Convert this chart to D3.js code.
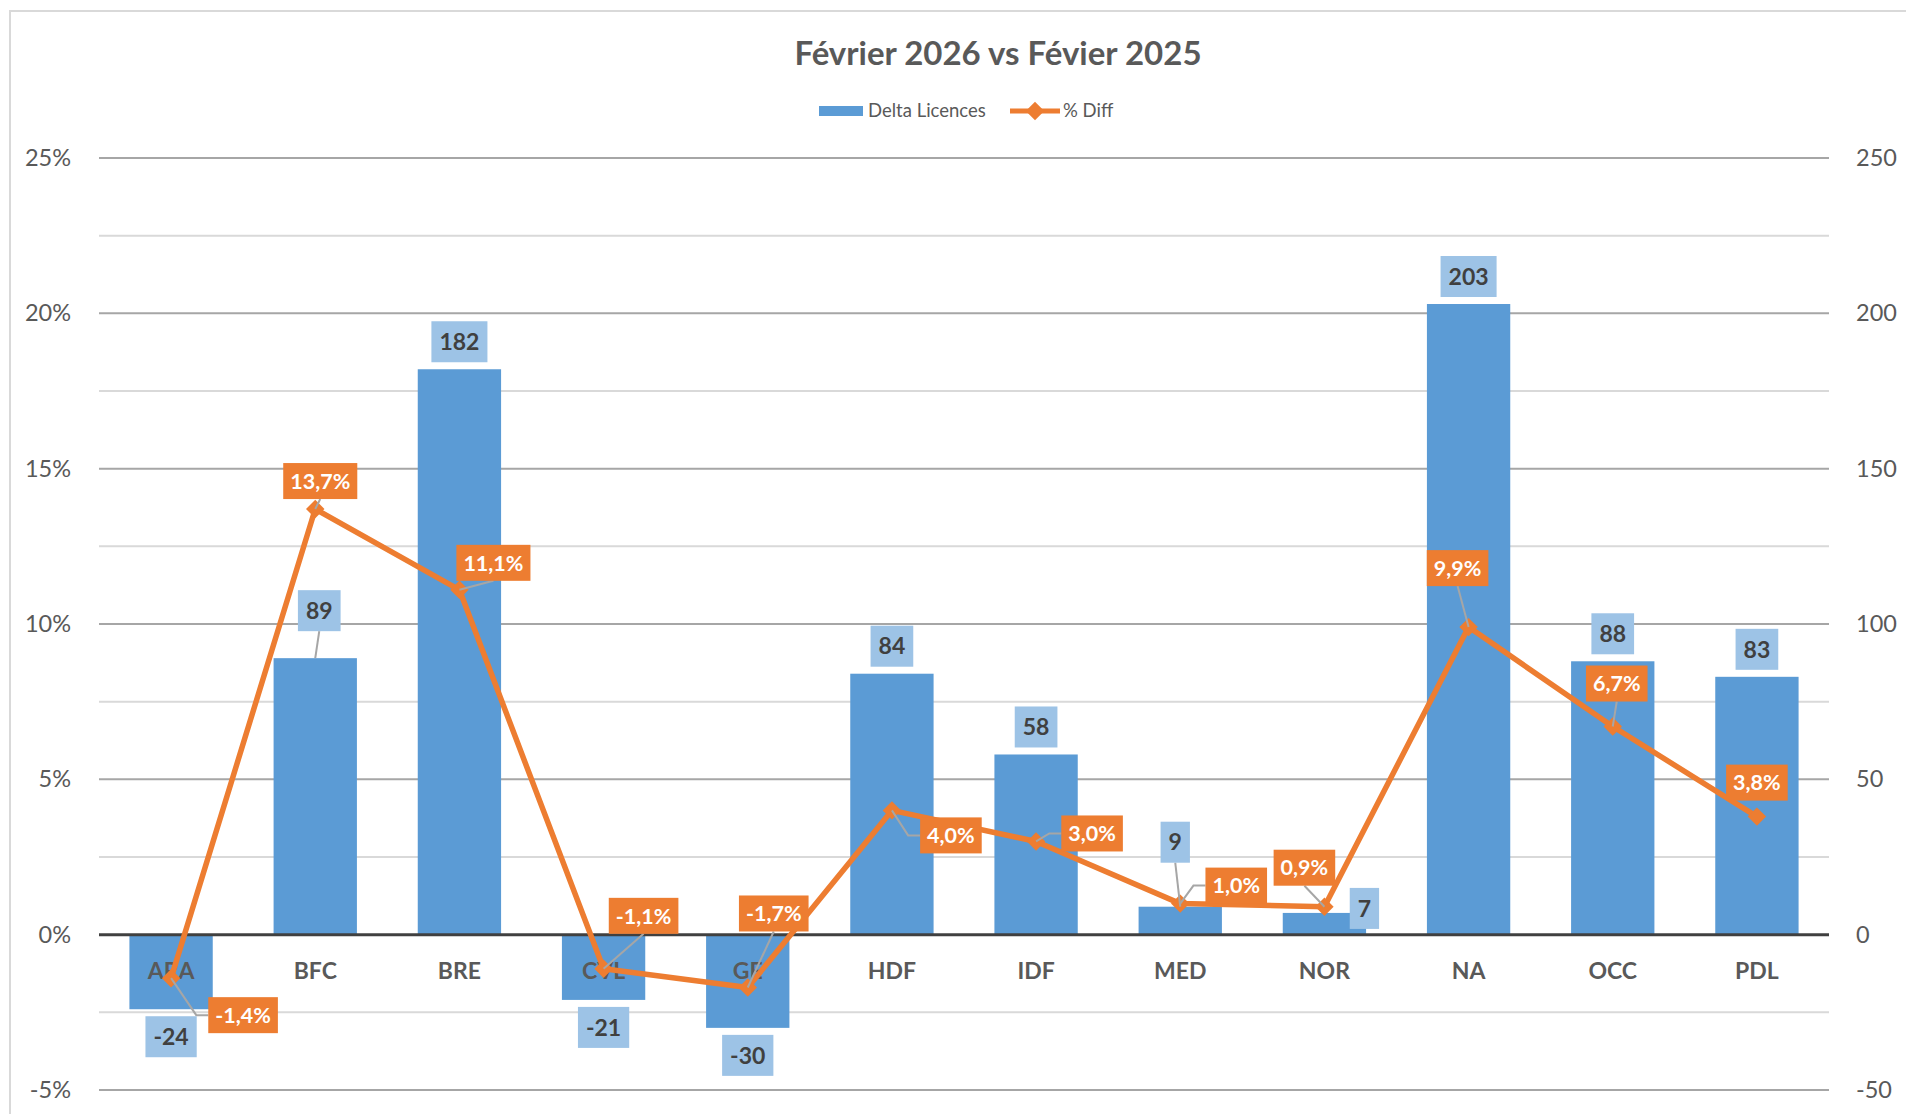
<!DOCTYPE html>
<html lang="fr">
<head>
<meta charset="utf-8">
<title>Février 2026 vs Févier 2025</title>
<script src="https://cdn.jsdelivr.net/npm/d3@7"></script>
<style>
  body { margin: 0; background: #fff; }
  svg text { font-family: Lato, "Open Sans", sans-serif; }
</style>
</head>
<body>
<script>
// Chart data
const regions = ["ARA", "BFC", "BRE", "CVL", "GE", "HDF", "IDF", "MED", "NOR", "NA", "OCC", "PDL"];
const deltaLicences = [-24, 89, 182, -21, -30, 84, 58, 9, 7, 203, 88, 83];
const pctDiff = [-1.4, 13.7, 11.1, -1.1, -1.7, 4.0, 3.0, 1.0, 0.9, 9.9, 6.7, 3.8];
const leftTicks = [-5, 0, 5, 10, 15, 20, 25];
const rightTicks = [-50, 0, 50, 100, 150, 200, 250];
const seriesNames = ["Delta Licences", "% Diff"];
const chartTitle = "Février 2026 vs Févier 2025";

const W = 1906, H = 1114;
const plot = { left: 99, right: 1829, top: 158, bottom: 1090 };

const blue = "#5b9bd5", blueLabel = "#9dc3e6", orange = "#ed7d31";
const grey = "#595959", leaderGrey = "#a6a6a6";

// french number format, plain hyphen for negatives
const fr = d3.formatLocale({ decimal: ",", thousands: " ", grouping: [3], currency: ["", " €"], minus: "-" });
const fmtPct = v => fr.format(".1f")(v) + "%";
const fmtInt = fr.format("d");

// label boxes moved by hand in the original workbook: shift of the box centre (px)
const barLabelMoves = { BFC: [4, -20, true], MED: [-5, -37, true], NOR: [40, 23, false] };
const lineLabelMoves = {
	ARA: [72, 37], BFC: [5, -28], BRE: [34, -27], CVL: [40, -53], GE: [26, -74],
	HDF: [59, 25], IDF: [56, -8], MED: [56, -18], NOR: [-20, -39], NA: [-11, -59], OCC: [4, -43]
};

const svg = d3.select("body").append("svg").attr("width", W).attr("height", H);

// chart frame (only top and left edges are in view)
svg.append("rect")
	.attr("x", 10).attr("y", 11)
	.attr("width", W).attr("height", H)
	.attr("fill", "#fff")
	.attr("stroke", "#d9d9d9")
	.attr("stroke-width", 2);

const x = d3.scaleBand().domain(regions).range([plot.left, plot.right]);
const yL = d3.scaleLinear().domain([-5, 25]).range([plot.bottom, plot.top]);
const yR = d3.scaleLinear().domain([-50, 250]).range([plot.bottom, plot.top]);
const barW = x.bandwidth() * 0.578;
const cx = d => x(d) + x.bandwidth() / 2;

// gridlines: major on the ticks, minor half way between
const minorTicks = leftTicks.slice(0, -1).map(t => t + 2.5);
svg.append("g").selectAll("line")
	.data(minorTicks)
	.join("line")
	.attr("x1", plot.left).attr("x2", plot.right)
	.attr("y1", d => yL(d)).attr("y2", d => yL(d))
	.attr("stroke", "#d9d9d9").attr("stroke-width", 2);
svg.append("g").selectAll("line")
	.data(leftTicks.filter(t => t !== 0))
	.join("line")
	.attr("x1", plot.left).attr("x2", plot.right)
	.attr("y1", d => yL(d)).attr("y2", d => yL(d))
	.attr("stroke", "#a6a6a6").attr("stroke-width", 2);

// bars (right axis)
const data = regions.map((r, i) => ({ region: r, delta: deltaLicences[i], pct: pctDiff[i] }));

svg.append("g").selectAll("rect")
	.data(data)
	.join("rect")
	.attr("x", d => cx(d.region) - barW / 2)
	.attr("y", d => yR(Math.max(0, d.delta)))
	.attr("width", barW)
	.attr("height", d => Math.abs(yR(d.delta) - yR(0)))
	.attr("fill", blue);

// zero line
svg.append("line")
	.attr("x1", plot.left).attr("x2", plot.right)
	.attr("y1", yL(0)).attr("y2", yL(0))
	.attr("stroke", "#404040").attr("stroke-width", 3);

// category labels
svg.append("g").selectAll("text")
	.data(regions)
	.join("text")
	.attr("x", d => cx(d))
	.attr("y", 979)
	.attr("text-anchor", "middle")
	.attr("font-size", 23)
	.attr("font-weight", "bold")
	.attr("fill", grey)
	.text(d => d);

// value axes
const leftAxis = svg.append("g")
	.attr("transform", `translate(${plot.left},0)`)
	.call(d3.axisLeft(yL).tickValues(leftTicks).tickSize(0).tickPadding(28).tickFormat(d => fmtInt(d) + "%"));
const rightAxis = svg.append("g")
	.attr("transform", `translate(${plot.right},0)`)
	.call(d3.axisRight(yR).tickValues(rightTicks).tickSize(0).tickPadding(27).tickFormat(fmtInt));
[leftAxis, rightAxis].forEach(a => {
	a.select(".domain").remove();
	a.selectAll("text")
		.attr("font-size", 23.5)
		.attr("fill", grey)
		.style("font-family", "Lato, 'Open Sans', sans-serif");
});

// % line (left axis)
const line = d3.line().x(d => cx(d.region)).y(d => yL(d.pct));
svg.append("path")
	.datum(data)
	.attr("d", line)
	.attr("fill", "none")
	.attr("stroke", orange)
	.attr("stroke-width", 5.5)
	.attr("stroke-linejoin", "round");

const diamond = d3.symbol(d3.symbolSquare, 170);
svg.append("g").selectAll("path")
	.data(data)
	.join("path")
	.attr("d", diamond)
	.attr("transform", d => `translate(${cx(d.region)},${yL(d.pct)}) rotate(45)`)
	.attr("fill", orange);

// data labels
const leaders = svg.append("g").attr("fill", "none").attr("stroke", leaderGrey).attr("stroke-width", 2);
const labels = svg.append("g");

function drawLabel(cxBox, cyBox, text, opts) {
	const g = labels.append("g");
	const t = g.append("text")
		.attr("x", cxBox).attr("y", cyBox)
		.attr("dy", "0.36em")
		.attr("text-anchor", "middle")
		.attr("font-size", opts.size)
		.attr("font-weight", "bold")
		.attr("fill", opts.color)
		.text(text);
	const w = t.node().getComputedTextLength() + 2 * opts.pad;
	g.insert("rect", "text")
		.attr("x", cxBox - w / 2).attr("y", cyBox - opts.h / 2)
		.attr("width", w).attr("height", opts.h)
		.attr("fill", opts.fill);
	return { x0: cxBox - w / 2, x1: cxBox + w / 2, y0: cyBox - opts.h / 2, y1: cyBox + opts.h / 2 };
}

// leader from anchor to label box: straight to top/bottom middle or with an elbow to a side
function drawLeader(px, py, b) {
	const bx = (b.x0 + b.x1) / 2, by = (b.y0 + b.y1) / 2;
	const hGap = px < b.x0 ? b.x0 - px : (px > b.x1 ? px - b.x1 : 0);
	const vGap = py > b.y1 ? py - b.y1 : (py < b.y0 ? b.y0 - py : 0);
	let pts;
	if (vGap >= hGap) {
		pts = [[px, py], [bx, py > b.y1 ? b.y1 : b.y0]];
	} else {
		const side = px < b.x0 ? b.x0 : b.x1;
		const elbow = px < b.x0 ? side - 12 : side + 12;
		pts = [[px, py], [elbow, by], [side, by]];
	}
	leaders.append("path").attr("d", d3.line()(pts));
}

const barOpts = { size: 23, color: "#404040", fill: blueLabel, pad: 8, h: 41 };
const lineOpts = { size: 21.5, color: "#fff", fill: orange, pad: 7, h: 36 };

data.forEach(d => {
	// bar value label, outside end
	const end = yR(d.delta);
	let bx = cx(d.region);
	let by = d.delta >= 0 ? end - 7 - barOpts.h / 2 : end + 7 + barOpts.h / 2;
	const mv = barLabelMoves[d.region];
	if (mv) { bx += mv[0]; by += mv[1]; }
	const b = drawLabel(bx, by, fmtInt(d.delta), barOpts);
	if (mv && mv[2]) drawLeader(cx(d.region), end, b);
});

data.forEach(d => {
	// % label, above the marker unless moved
	const px = cx(d.region), py = yL(d.pct);
	const mv = lineLabelMoves[d.region] || [0, -34];
	const b = drawLabel(px + mv[0], py + mv[1], fmtPct(d.pct), lineOpts);
	if (lineLabelMoves[d.region]) drawLeader(px, py, b);
});

// make sure labels sit above leaders
labels.raise();

// title
svg.append("text")
	.attr("x", 998).attr("y", 65)
	.attr("text-anchor", "middle")
	.attr("font-size", 33)
	.attr("font-weight", "bold")
	.attr("fill", grey)
	.text(chartTitle);

// legend
const legend = svg.append("g").attr("font-size", 18.5).attr("fill", grey);
legend.append("rect")
	.attr("x", 819).attr("y", 106)
	.attr("width", 44).attr("height", 10)
	.attr("fill", blue);
legend.append("text").attr("x", 868).attr("y", 117).text(seriesNames[0]);
legend.append("line")
	.attr("x1", 1010).attr("x2", 1060)
	.attr("y1", 111).attr("y2", 111)
	.attr("stroke", orange).attr("stroke-width", 5);
legend.append("path")
	.attr("d", diamond)
	.attr("transform", "translate(1035,111) rotate(45)")
	.attr("fill", orange);
legend.append("text").attr("x", 1063).attr("y", 117).text(seriesNames[1]);
</script>
</body>
</html>
